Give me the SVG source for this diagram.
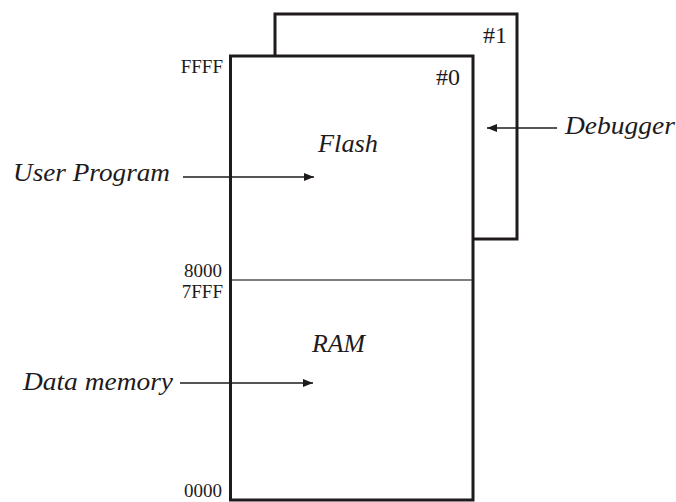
<svg xmlns="http://www.w3.org/2000/svg" width="676" height="502" viewBox="0 0 676 502">
<style>
.box{fill:#fff;stroke:#1f1b1c;stroke-width:3}
.it{font-family:"Liberation Serif","Times New Roman",serif;font-style:italic;font-size:25px;fill:#1f1b1c}
.lab{font-family:"Liberation Serif","Times New Roman",serif;font-size:24px;fill:#1f1b1c}
.addr{font-family:"Liberation Serif","Times New Roman",serif;font-size:19px;fill:#1f1b1c;text-anchor:end}
.con{stroke:#1f1b1c;stroke-width:1.6;fill:none}
</style>
<defs>
<marker id="ah" viewBox="0 0 10 8" refX="10" refY="4" markerWidth="10" markerHeight="8" markerUnits="userSpaceOnUse" orient="auto">
<path d="M0,0 L10,4 L0,8 Z" fill="#1f1b1c"/>
</marker>
</defs>
<g id="page1">
<rect class="box" x="275" y="14" width="242" height="225"/>
<text class="lab" x="507" y="43" text-anchor="end">#1</text>
</g>
<g id="page0">
<rect class="box" x="230.5" y="56" width="242.5" height="444"/>
<line x1="232" y1="280" x2="472" y2="280" stroke="#555" stroke-width="1.3"/>
<text class="lab" x="460" y="85" text-anchor="end">#0</text>
</g>
<g id="flash">
<text class="it" x="318" y="152" textLength="60" lengthAdjust="spacingAndGlyphs">Flash</text>
</g>
<g id="ram">
<text class="it" x="312" y="352" textLength="53" lengthAdjust="spacingAndGlyphs">RAM</text>
</g>
<g id="addresses">
<text class="addr" x="223" y="73">FFFF</text>
<text class="addr" x="222" y="277">8000</text>
<text class="addr" x="223" y="298">7FFF</text>
<text class="addr" x="222" y="497">0000</text>
</g>
<g id="userprog">
<text class="it" x="13" y="181" textLength="157" lengthAdjust="spacingAndGlyphs">User Program</text>
</g>
<g id="datamem">
<text class="it" x="23" y="390" textLength="150" lengthAdjust="spacingAndGlyphs">Data memory</text>
</g>
<g id="debugger">
<text class="it" x="565" y="134" textLength="110" lengthAdjust="spacingAndGlyphs">Debugger</text>
</g>
<g id="connectors">
<line class="con" x1="183" y1="177" x2="314" y2="177" marker-end="url(#ah)"/>
<line class="con" x1="180" y1="383" x2="313" y2="383" marker-end="url(#ah)"/>
<line class="con" x1="557" y1="128" x2="487" y2="128" marker-end="url(#ah)"/>
</g>
</svg>
